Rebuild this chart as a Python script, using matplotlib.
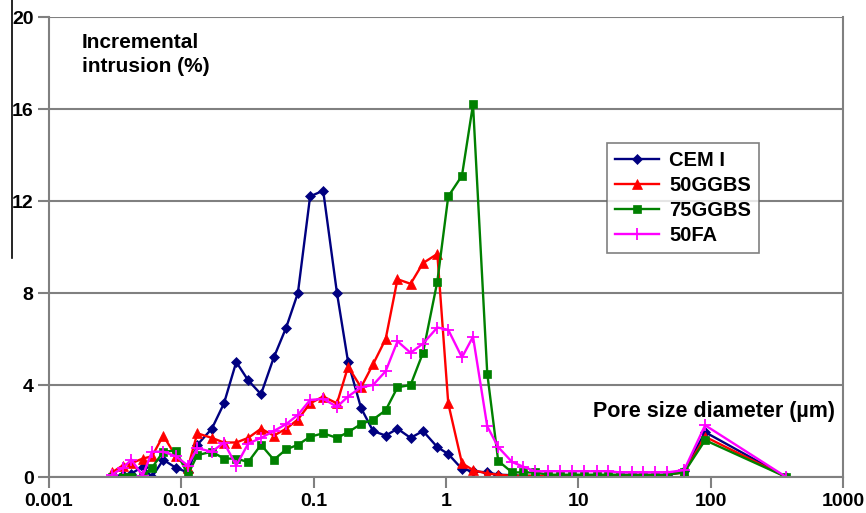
import matplotlib
matplotlib.use('Agg')
import matplotlib.pyplot as plt
from matplotlib.lines import Line2D
import numpy as np

plt.rcParams['font.family'] = ['Liberation Sans', 'DejaVu Sans']

# pore diameters (um) of the intrusion steps
diam = [0.003, 0.0036, 0.0042, 0.0051, 0.0060, 0.0073, 0.0091, 0.0112, 0.0132, 0.017,
        0.021, 0.026, 0.032, 0.040, 0.050, 0.062, 0.076, 0.094, 0.118, 0.15,
        0.182, 0.228, 0.281, 0.35, 0.43, 0.54, 0.67, 0.86, 1.04, 1.32,
        1.6, 2.05, 2.48, 3.16, 3.83, 4.72, 5.91, 7.29, 8.98, 11.06,
        13.87, 16.8, 20.7, 25.5, 30.9, 38.1, 46.9, 63.0, 90.8, 372.0]

cem1 = [0.0, 0.1, 0.15, 0.45, 0.0, 0.75, 0.4, 0.2, 1.4, 2.1,
        3.2, 5.0, 4.2, 3.6, 5.2, 6.5, 8.0, 12.2, 12.45, 8.0,
        5.0, 3.0, 2.0, 1.8, 2.1, 1.7, 2.0, 1.3, 1.0, 0.35,
        0.25, 0.2, 0.1, 0.08, 0.05, 0.05, 0.05, 0.05, 0.05, 0.05,
        0.05, 0.05, 0.05, 0.05, 0.05, 0.05, 0.1, 0.25, 1.95, 0.0]

ggbs50 = [0.2, 0.5, 0.6, 0.8, 0.9, 1.8, 0.9, 0.4, 1.9, 1.7,
          1.5, 1.5, 1.7, 2.1, 1.8, 2.1, 2.5, 3.2, 3.5, 3.2,
          4.8, 3.9, 4.9, 6.0, 8.6, 8.4, 9.3, 9.7, 3.2, 0.6,
          0.3, 0.15, 0.1, 0.05, 0.05, 0.05, 0.05, 0.05, 0.05, 0.05,
          0.05, 0.05, 0.05, 0.05, 0.05, 0.05, 0.1, 0.2, 1.75, 0.0]

ggbs75 = [0.0, 0.0, 0.0, 0.05, 0.4, 1.1, 1.15, 0.1, 0.95, 1.1,
          0.8, 0.8, 0.65, 1.4, 0.75, 1.2, 1.4, 1.75, 1.9, 1.7,
          1.95, 2.3, 2.5, 2.9, 3.9, 4.0, 5.4, 8.5, 12.2, 13.1,
          16.2, 4.5, 0.7, 0.2, 0.2, 0.2, 0.1, 0.1, 0.1, 0.1,
          0.1, 0.1, 0.1, 0.1, 0.1, 0.1, 0.1, 0.2, 1.6, 0.0]

fa50 = [0.1, 0.4, 0.75, 0.05, 1.1, 1.1, 0.9, 0.5, 1.25, 1.1,
        1.5, 0.5, 1.45, 1.7, 2.0, 2.3, 2.7, 3.35, 3.4, 3.05,
        3.5, 3.9, 4.0, 4.6, 5.9, 5.4, 5.8, 6.5, 6.4, 5.2,
        6.1, 2.2, 1.3, 0.65, 0.45, 0.25, 0.25, 0.25, 0.25, 0.25,
        0.25, 0.25, 0.2, 0.2, 0.2, 0.2, 0.2, 0.3, 2.25, 0.0]

series = [('CEM I', cem1, '#000080', 'D', 5),
          ('50GGBS', ggbs50, '#ff0000', '^', 7),
          ('75GGBS', ggbs75, '#008000', 's', 6),
          ('50FA', fa50, '#ff00ff', '+', 9)]

xticks = [0.001, 0.01, 0.1, 1, 10, 100, 1000]
xticklabels = ['0.001', '0.01', '0.1', '1', '10', '100', '1000']
yticks = [0, 4, 8, 12, 16, 20]

fig = plt.figure(figsize=(8.66, 5.13), dpi=100)
ax = fig.add_axes([49/866, 1 - 477/513, (843 - 49)/866, (477 - 17)/513])

for name, vals, col, mk, ms in series:
    ax.plot(diam, vals, color=col, marker=mk, markersize=ms, lw=1.7,
            markeredgewidth=1.3 if mk == '+' else 0.5, label=name)

ax.set_xscale('log')
ax.set_xlim(0.001, 1000)
ax.set_ylim(0, 20)
ax.set_xticks(xticks)
ax.set_xticklabels(xticklabels)
ax.xaxis.set_minor_locator(matplotlib.ticker.NullLocator())
ax.set_yticks(yticks)
ax.yaxis.grid(True, color='#808080', lw=1.5)
ax.set_axisbelow(True)

for side in ['left', 'bottom', 'right']:
    ax.spines[side].set_color('#808080')
    ax.spines[side].set_linewidth(1.5)
ax.spines['top'].set_visible(False)

ax.tick_params(axis='both', colors='#808080', width=1.5, length=8, labelsize=14)
ax.tick_params(axis='y', pad=3)
for lab in ax.get_xticklabels() + ax.get_yticklabels():
    lab.set_color('black')
    lab.set_fontweight('bold')

ax.text(0.041, 0.965, 'Incremental\nintrusion (%)', transform=ax.transAxes,
        fontsize=15, fontweight='bold', va='top', ha='left', linespacing=1.35)
ax.text(0.99, 0.143, 'Pore size diameter (\u00b5m)', transform=ax.transAxes,
        fontsize=15.5, fontweight='bold', va='center', ha='right')

leg = ax.legend(loc='upper left', bbox_to_anchor=((607 - 49)/794, 1 - (143 - 17)/460),
                frameon=True, fancybox=False, edgecolor='#606060',
                prop={'weight': 'bold', 'size': 14.5}, borderpad=0.4,
                handlelength=2.2, handletextpad=0.5, labelspacing=0.3,
                borderaxespad=0)
leg.get_frame().set_linewidth(1.2)

# page edge rule on the left
fig.add_artist(Line2D([12/866, 12/866], [1, 1 - 258/513], color='black', lw=1.2))

plt.savefig('out.png', dpi=100)
